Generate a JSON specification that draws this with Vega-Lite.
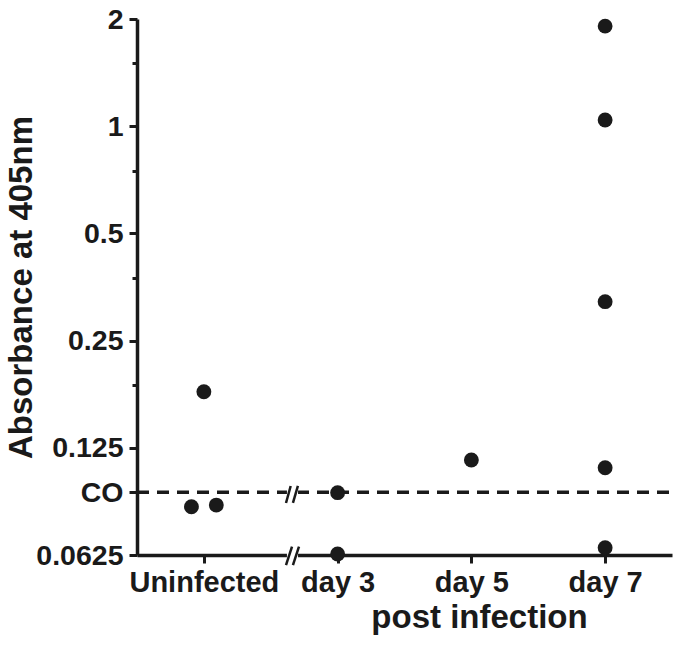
{
  "$schema": "https://vega.github.io/schema/vega-lite/v6.json",
  "width": 535,
  "height": 536,
  "autosize": "none",
  "padding": {"left": 137, "top": 19, "right": 7, "bottom": 91},
  "background": "white",
  "config": {
    "view": {"stroke": null},
    "axis": {
      "labelFont": "Liberation Sans",
      "labelFontWeight": "bold",
      "labelColor": "#1a1a1a",
      "titleFont": "Liberation Sans",
      "titleFontWeight": "bold",
      "titleColor": "#1a1a1a",
      "domainColor": "#1a1a1a",
      "domainWidth": 3.5,
      "tickColor": "#1a1a1a",
      "tickWidth": 3,
      "grid": false
    }
  },
  "datasets": {
    "points": [
      {"group": "Uninfected", "pos": 1.0, "absorbance": 0.1796},
      {"group": "Uninfected", "pos": 0.907, "absorbance": 0.0854},
      {"group": "Uninfected", "pos": 1.093, "absorbance": 0.0863},
      {"group": "day 3", "pos": 2, "absorbance": 0.0935},
      {"group": "day 3", "pos": 2, "absorbance": 0.0629},
      {"group": "day 5", "pos": 3, "absorbance": 0.1155},
      {"group": "day 7", "pos": 4, "absorbance": 1.91},
      {"group": "day 7", "pos": 4, "absorbance": 1.041},
      {"group": "day 7", "pos": 4, "absorbance": 0.3215},
      {"group": "day 7", "pos": 4, "absorbance": 0.1099},
      {"group": "day 7", "pos": 4, "absorbance": 0.0655}
    ],
    "cutoff": [{"co": 0.09375, "from": 0.5, "to": 4.5}],
    "gap": [{"x1": 1.621, "x2": 1.704, "y1": 0.058, "y2": 0.1}],
    "slashes": [
      {"x1": 1.614, "y1": 0.05856, "x2": 1.659, "y2": 0.06594},
      {"x1": 1.666, "y1": 0.05856, "x2": 1.711, "y2": 0.06594},
      {"x1": 1.614, "y1": 0.0875, "x2": 1.649, "y2": 0.09766},
      {"x1": 1.666, "y1": 0.0875, "x2": 1.703, "y2": 0.09766}
    ]
  },
  "layer": [
    {
      "data": {"name": "cutoff"},
      "mark": {"type": "rule", "strokeDash": [12, 8], "strokeWidth": 3.5, "color": "#1a1a1a"},
      "encoding": {
        "x": {"field": "from", "type": "quantitative", "scale": {"domain": [0.5, 4.5]},
          "axis": {
            "values": [1, 2, 3, 4],
            "labelExpr": "['', 'Uninfected', 'day 3', 'day 5', 'day 7'][datum.value]",
            "labelFontSize": 29,
            "labelPadding": 5,
            "tickSize": 8,
            "title": "post infection",
            "titleFontSize": 33,
            "titleX": 342,
            "titleY": 72,
            "titleAlign": "center",
            "titleBaseline": "alphabetic"
          }
        },
        "x2": {"field": "to"},
        "y": {"field": "co", "type": "quantitative",
          "scale": {"type": "log", "base": 2, "domain": [0.0625, 2]},
          "axis": {
            "values": [0.0625, 0.09375, 0.125, 0.1875, 0.25, 0.375, 0.5, 0.75, 1, 1.5, 2],
            "format": "~g",
            "labelExpr": "datum.value == 0.09375 ? 'CO' : (indexof([0.1875, 0.375, 0.75, 1.5], datum.value) >= 0 ? '' : datum.label)",
            "tickSize": {"condition": {"test": "indexof([0.1875, 0.375, 0.75, 1.5], datum.value) >= 0", "value": 5}, "value": 8},
            "labelFontSize": 28.5,
            "labelPadding": 6,
            "title": "Absorbance at 405nm",
            "titleFontSize": 33,
            "titleX": -106,
            "titleBaseline": "alphabetic"
          }
        }
      }
    },
    {
      "data": {"name": "gap"},
      "mark": {"type": "rect", "color": "white"},
      "encoding": {
        "x": {"field": "x1", "type": "quantitative"},
        "x2": {"field": "x2"},
        "y": {"field": "y1", "type": "quantitative"},
        "y2": {"field": "y2"}
      }
    },
    {
      "data": {"name": "slashes"},
      "mark": {"type": "rule", "strokeWidth": 2.5, "color": "#1a1a1a"},
      "encoding": {
        "x": {"field": "x1", "type": "quantitative"},
        "x2": {"field": "x2"},
        "y": {"field": "y1", "type": "quantitative"},
        "y2": {"field": "y2"}
      }
    },
    {
      "data": {"name": "points"},
      "mark": {"type": "circle", "size": 220, "color": "#1a1a1a", "opacity": 1},
      "encoding": {
        "x": {"field": "pos", "type": "quantitative"},
        "y": {"field": "absorbance", "type": "quantitative"}
      }
    }
  ]
}
